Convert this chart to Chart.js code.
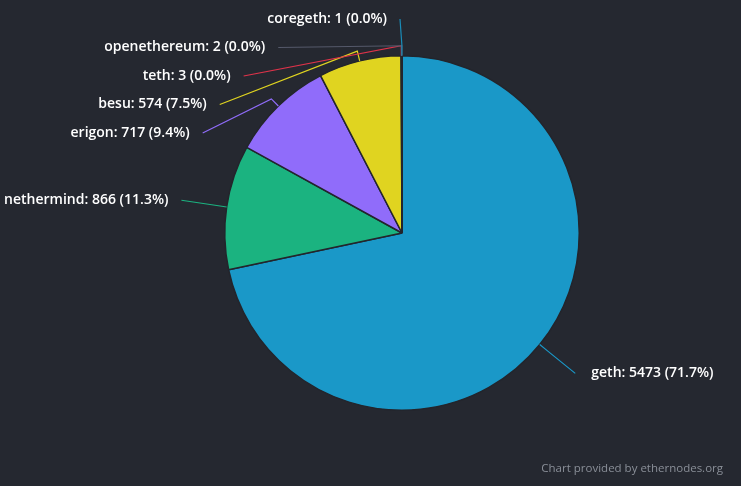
<!DOCTYPE html>
<html>
<head>
<meta charset="utf-8">
<script src="https://cdn.jsdelivr.net/npm/chart.js@4"></script>
<style>
  html, body { margin: 0; padding: 0; background: #252830; }
  #wrap { position: relative; width: 741px; height: 486px; }
  #credit {
    position: absolute; right: 18px; top: 460px;
    font: 11.5px "Open Sans", sans-serif; color: #8a8f98;
  }
</style>
</head>
<body>
<div id="wrap">
  <canvas id="pie" width="741" height="486"></canvas>
  <div id="credit">Chart provided by ethernodes.org</div>
</div>
<script>
// data
const clients = ["geth", "nethermind", "erigon", "besu", "teth", "openethereum", "coregeth"];
const nodeCounts = [5473, 866, 717, 574, 3, 2, 1];
const sliceColors = ["#1a98c8", "#1bb380", "#906cfa", "#e0d420", "#e0334a", "#55596a", "#1a8cb8"];

const total = nodeCounts.reduce((a, b) => a + b, 0);

// outside labels with connector lines (highcharts-ish)
const outLabels = {
  id: "outLabels",
  afterDatasetsDraw(chart) {
    const ctx = chart.ctx;
    const arcs = chart.getDatasetMeta(0).data;
    const R = 223, spacing = 28.5, topMin = 19;
    let items = arcs.map((arc, i) => {
      const a = (arc.startAngle + arc.endAngle) / 2;
      const cx = arc.x, cy = arc.y, r = arc.outerRadius;
      return {
        i, a, cx, cy, r,
        left: Math.cos(a) < 0,
        y: cy + R * Math.sin(a)
      };
    });

    // push left labels apart, top to bottom
    const left = items.filter(it => it.left).sort((p, q) => p.y - q.y || q.i - p.i);
    let prev = -Infinity;
    left.forEach(it => {
      it.y = Math.max(it.y, topMin, prev + spacing);
      prev = it.y;
    });

    ctx.save();
    ctx.font = "600 14px 'Open Sans', sans-serif";
    ctx.textBaseline = "middle";
    items.forEach(it => {
      const dy = it.y - it.cy;
      let dx = Math.sqrt(Math.max(0, R * R - dy * dy));
      if (Math.abs(dy) > R * 0.95) dx = 2; // label straight above the pie
      const x = it.left ? it.cx - dx : it.cx + dx;
      const ex = it.cx + it.r * Math.cos(it.a), ey = it.cy + it.r * Math.sin(it.a);
      const bx = it.cx + (it.r + 10) * Math.cos(it.a), by = it.cy + (it.r + 10) * Math.sin(it.a);

      ctx.strokeStyle = sliceColors[it.i];
      ctx.lineWidth = 1.2;
      ctx.beginPath();
      ctx.moveTo(x, it.y);
      ctx.lineTo(bx, by);
      ctx.lineTo(ex, ey);
      ctx.stroke();

      const v = nodeCounts[it.i];
      const txt = clients[it.i] + ": " + v + " (" + (v / total * 100).toFixed(1) + "%)";
      ctx.fillStyle = "#ffffff";
      ctx.textAlign = it.left ? "right" : "left";
      ctx.fillText(txt, it.left ? x - 13 : x + 16, it.y);
    });
    ctx.restore();
  }
};

new Chart(document.getElementById("pie"), {
  type: "pie",
  data: {
    labels: clients,
    datasets: [{
      data: nodeCounts,
      backgroundColor: sliceColors,
      borderColor: "#23252c",
      borderWidth: 1.5
    }]
  },
  options: {
    responsive: false,
    animation: false,
    layout: { padding: { top: 55, bottom: 75, left: 224, right: 161 } },
    plugins: {
      legend: { display: false },
      tooltip: { enabled: false }
    }
  },
  plugins: [outLabels]
});
</script>
</body>
</html>
